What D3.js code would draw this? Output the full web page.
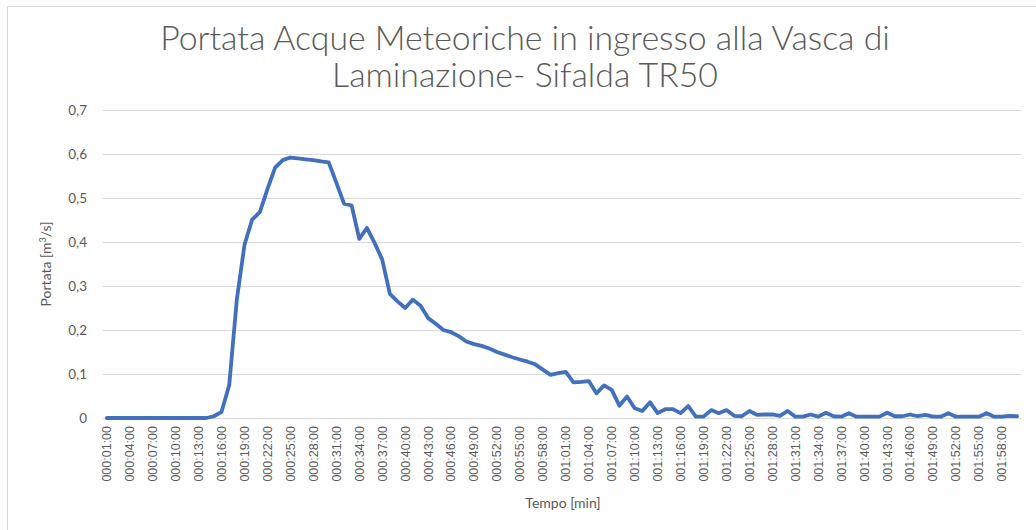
<!DOCTYPE html>
<html>
<head>
<meta charset="utf-8">
<script src="https://cdn.jsdelivr.net/npm/d3@7"></script>
<style>
  body { margin: 0; background: #fff; }
  text { fill: #595959; }
</style>
</head>
<body>
<div id="chart"></div>
<script>
// minutes (categories) and flow values [m3/s]
const minutes = d3.range(1, 121)
const portata = [
  0, 0, 0, 0, 0, 0, 0, 0, 0, 0, 0, 0, 0, 0, 0.004,
  0.014, 0.075, 0.27, 0.394, 0.451, 0.468, 0.52, 0.569, 0.586, 0.592,
  0.59, 0.588, 0.586, 0.583, 0.581, 0.535, 0.487, 0.483, 0.407, 0.432,
  0.398, 0.36, 0.282, 0.265, 0.25, 0.269, 0.255, 0.227, 0.214, 0.2,
  0.195, 0.186, 0.174, 0.168, 0.164, 0.158, 0.15, 0.144, 0.138, 0.133,
  0.128, 0.122, 0.11, 0.098, 0.102, 0.105, 0.081, 0.082, 0.084, 0.056,
  0.074, 0.064, 0.028, 0.049, 0.022, 0.016, 0.036, 0.011, 0.02, 0.02,
  0.011, 0.027, 0.003, 0.003, 0.018, 0.011, 0.018, 0.005, 0.004, 0.016,
  0.007, 0.008, 0.008, 0.005, 0.016, 0.003, 0.003, 0.008, 0.003, 0.012,
  0.004, 0.003, 0.011, 0.003, 0.003, 0.003, 0.003, 0.012, 0.004, 0.004,
  0.008, 0.004, 0.007, 0.003, 0.003, 0.011, 0.003, 0.003, 0.003, 0.003,
  0.011, 0.003, 0.003, 0.005, 0.004
]
const yTicks = [0, 0.1, 0.2, 0.3, 0.4, 0.5, 0.6, 0.7]
const titleLines = ["Portata Acque Meteoriche in ingresso alla Vasca di", "Laminazione- Sifalda TR50"]

const width = 1036
const height = 530
const margin = ({ top: 110, right: 15, bottom: 112, left: 103 })

const fmtTime = m => {
    const h = Math.floor(m / 60), mm = m % 60
    return d3.format("03d")(h) + ":" + d3.format("02d")(mm) + ":00"
}
const fmtY = v => v === 0 ? "0" : d3.format(".1f")(v).replace(".", ",")

const data = minutes.map((m, i) => ({ m: m, v: portata[i] }))

const x = d3.scaleBand()
    .domain(minutes)
    .range([margin.left, width - margin.right])
    .padding(0)

const y = d3.scaleLinear()
    .domain([0, 0.7])
    .range([height - margin.bottom, margin.top])

const svg = d3.select("#chart")
    .append("svg")
    .attr("width", width)
    .attr("height", height)

// chart frame
svg.append("rect")
    .attr("x", 7.5).attr("y", 6.5)
    .attr("width", width + 10).attr("height", height + 10)
    .attr("fill", "none")
    .attr("stroke", "#d9d9d9")

// gridlines + y labels
const yAxis = g => g
    .attr("transform", `translate(${margin.left},0)`)
    .call(d3.axisRight(y).tickValues(yTicks).tickSize(width - margin.left - margin.right).tickFormat(fmtY))
    .call(g => g.select(".domain").remove())
    .call(g => g.selectAll(".tick line").attr("stroke", "#d9d9d9"))
    .call(g => g.selectAll(".tick text")
        .attr("x", -16)
        .attr("dy", "0.32em")
        .attr("text-anchor", "end")
        .attr("font-family", "Lato, 'Open Sans', sans-serif")
        .attr("font-size", 13.5)
        .attr("fill", "#595959"))

svg.append("g").call(yAxis)

const xAxis = g => g
    .attr("transform", `translate(0,${height - margin.bottom})`)
    .call(d3.axisBottom(x)
        .tickValues(minutes.filter((m, i) => i % 3 === 0))
        .tickFormat(fmtTime)
        .tickSize(0))
    .call(g => g.select(".domain").attr("stroke", "#d9d9d9"))
    .call(g => g.selectAll(".tick text")
        .attr("transform", "rotate(-90)")
        .attr("x", -8)
        .attr("y", 0)
        .attr("dy", "0.35em")
        .attr("text-anchor", "end")
        .attr("font-family", "'Liberation Sans', Arial, sans-serif")
        .attr("font-size", 12.5)
        .attr("fill", "#595959"))

svg.append("g").call(xAxis)

// line
const line = d3.line()
    .x(d => x(d.m) + x.bandwidth() / 2)
    .y(d => y(d.v))

svg.append("path")
    .datum(data)
    .attr("fill", "none")
    .attr("stroke", "#4170bd")
    .attr("stroke-width", 3.8)
    .attr("stroke-linejoin", "round")
    .attr("stroke-linecap", "round")
    .attr("d", line)

// title
const title = svg.append("g")
    .attr("font-family", "Lato, 'Open Sans', sans-serif")
    .attr("font-weight", 300)
    .attr("text-anchor", "middle")

const t1 = title.append("text")
    .attr("x", 525)
    .attr("y", 50)
    .attr("font-size", 30)
    .text(titleLines[0])
const w1 = t1.node().getComputedTextLength()
const fs = 30 * 730 / w1
t1.attr("font-size", fs)

title.append("text")
    .attr("x", 525)
    .attr("y", 87)
    .attr("font-size", fs)
    .text(titleLines[1])

// axis titles
svg.append("text")
    .attr("transform", `translate(51,264) rotate(-90)`)
    .attr("text-anchor", "middle")
    .attr("font-family", "Lato, 'Open Sans', sans-serif")
    .attr("font-size", 14)
    .text("Portata [m")
    .append("tspan").attr("baseline-shift", "super").attr("font-size", 9).text("3")
    .select(function () { return this.parentNode })
    .append("tspan").text("/s]")

svg.append("text")
    .attr("x", 563)
    .attr("y", 508)
    .attr("text-anchor", "middle")
    .attr("font-family", "Lato, 'Open Sans', sans-serif")
    .attr("font-size", 14)
    .text("Tempo [min]")
</script>
</body>
</html>
